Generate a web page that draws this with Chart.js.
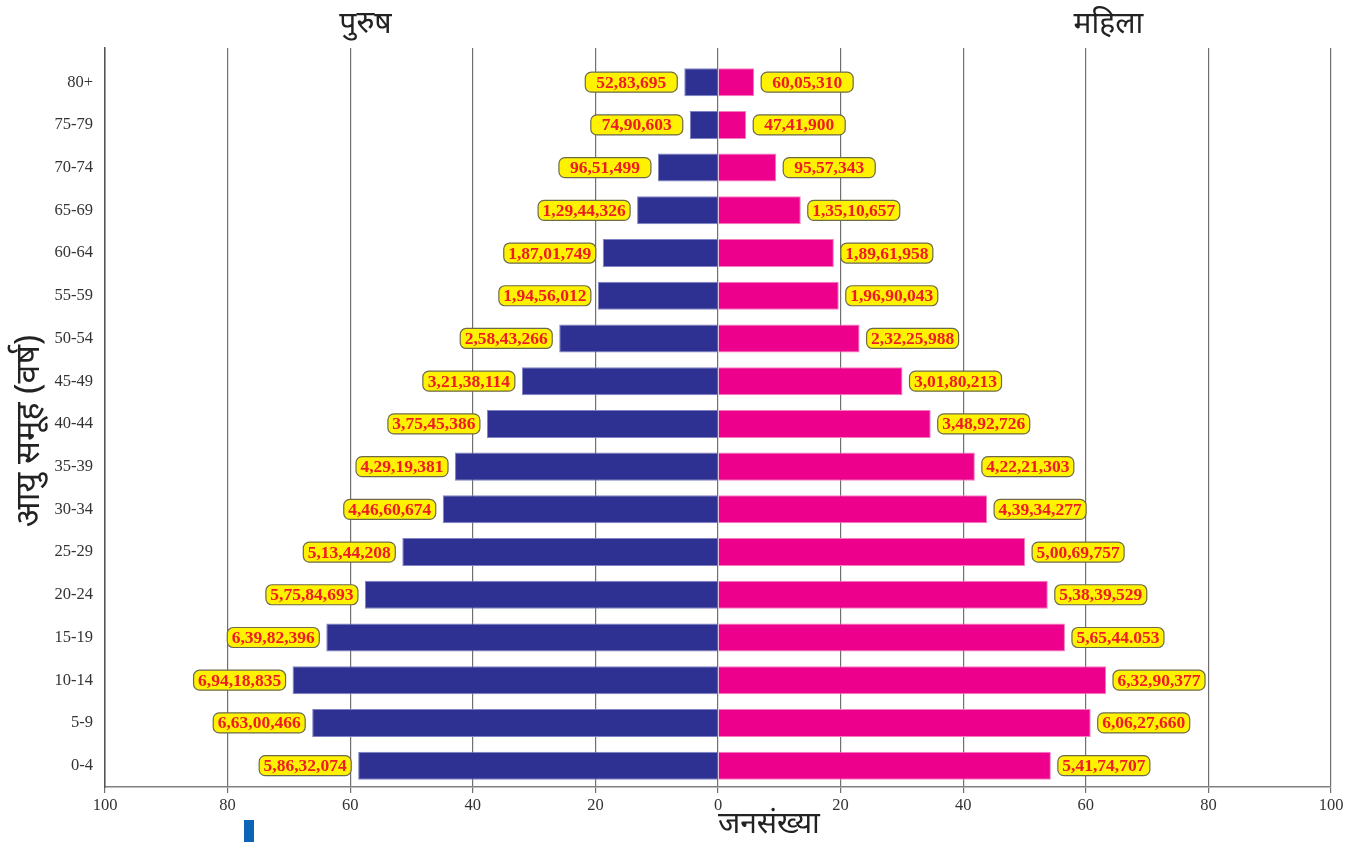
<!DOCTYPE html>
<html>
<head>
<meta charset="utf-8">
<script src="https://cdn.jsdelivr.net/npm/chart.js@4.4.0/dist/chart.umd.min.js"></script>
<style>
body { margin: 0; background: #fff; }
#wrap { position: relative; width: 1355px; height: 842px; }
#mark { position: absolute; left: 244px; top: 820px; width: 10px; height: 22px; background: #0b64b5; }
</style>
</head>
<body>
<div id="wrap"><canvas id="chart"></canvas><div id="mark"></div></div>
<script>
// age groups, top of the pyramid first
const ageGroups = ['80+', '75-79', '70-74', '65-69', '60-64', '55-59', '50-54', '45-49', '40-44',
  '35-39', '30-34', '25-29', '20-24', '15-19', '10-14', '5-9', '0-4'];

// bar lengths in millions
const maleMillions = [5.5, 4.6, 9.8, 13.2, 18.8, 19.6, 25.9, 32.0, 37.7, 42.9, 44.9, 51.5, 57.6, 63.9, 69.4, 66.2, 58.7];
const femaleMillions = [5.9, 4.6, 9.5, 13.5, 18.9, 19.7, 23.1, 30.1, 34.7, 41.9, 43.9, 50.1, 53.8, 56.6, 63.3, 60.8, 54.3];

// printed counts in the yellow tags
const maleTags = ['52,83,695', '74,90,603', '96,51,499', '1,29,44,326', '1,87,01,749', '1,94,56,012',
  '2,58,43,266', '3,21,38,114', '3,75,45,386', '4,29,19,381', '4,46,60,674', '5,13,44,208',
  '5,75,84,693', '6,39,82,396', '6,94,18,835', '6,63,00,466', '5,86,32,074'];
const femaleTags = ['60,05,310', '47,41,900', '95,57,343', '1,35,10,657', '1,89,61,958', '1,96,90,043',
  '2,32,25,988', '3,01,80,213', '3,48,92,726', '4,22,21,303', '4,39,34,277', '5,00,69,757',
  '5,38,39,529', '5,65,44.053', '6,32,90,377', '6,06,27,660', '5,41,74,707'];

const xTicks = [-100, -80, -60, -40, -20, 0, 20, 40, 60, 80, 100];

const devFont = '"Noto Sans", sans-serif';
const numFont = '"Liberation Serif", serif';

const valueTags = {
  id: 'valueTags',
  afterDatasetsDraw(chart) {
    const ctx = chart.ctx;
    const tagSets = [maleTags, femaleTags];
    const w = 92, h = 20;
    ctx.save();
    ctx.font = 'bold 17.5px ' + numFont;
    ctx.textAlign = 'center';
    ctx.textBaseline = 'middle';
    chart.data.datasets.forEach((ds, di) => {
      chart.getDatasetMeta(di).data.forEach((bar, i) => {
        const left = di === 0 ? bar.x - 7 - w : bar.x + 7;
        ctx.beginPath();
        ctx.roundRect(left, bar.y - h / 2, w, h, 6);
        ctx.fillStyle = '#fff200';
        ctx.fill();
        ctx.lineWidth = 1.2;
        ctx.strokeStyle = '#6d6a4a';
        ctx.stroke();
        ctx.fillStyle = '#ee1c25';
        ctx.fillText(tagSets[di][i], left + w / 2, bar.y + 1);
      });
    });
    ctx.restore();
  }
};

const titles = {
  id: 'titles',
  afterDraw(chart) {
    const ctx = chart.ctx;
    const x = chart.scales.x;
    ctx.save();
    ctx.fillStyle = '#222';
    ctx.textAlign = 'center';
    ctx.textBaseline = 'middle';
    ctx.font = '30px ' + devFont;
    ctx.fillText('पुरुष', x.getPixelForValue(-57.5), 24);
    ctx.fillText('महिला', x.getPixelForValue(63.7), 24);
    ctx.fillText('जनसंख्या', x.getPixelForValue(8.3), 824);
    ctx.font = '34px ' + devFont;
    ctx.translate(29, 431);
    ctx.rotate(-Math.PI / 2);
    ctx.fillText('आयु समूह (वर्ष)', 0, 0);
    ctx.restore();
  }
};

new Chart(document.getElementById('chart'), {
  type: 'bar',
  data: {
    datasets: [{
      label: 'पुरुष',
      data: maleMillions.map((v, i) => ({ x: -v, y: i })),
      backgroundColor: '#2e3192',
      borderColor: '#7f82c4',
      borderWidth: 1
    }, {
      label: 'महिला',
      data: femaleMillions.map((v, i) => ({ x: v, y: i })),
      backgroundColor: '#ec008c',
      borderColor: '#f27ec0',
      borderWidth: 1
    }]
  },
  options: {
    indexAxis: 'y',
    responsive: true,
    maintainAspectRatio: false,
    animation: false,
    categoryPercentage: 0.8,
    barPercentage: 0.82,
    layout: { padding: { left: 10, right: 24, top: 48, bottom: 0 } },
    plugins: { legend: { display: false }, tooltip: { enabled: false } },
    scales: {
      x: {
        type: 'linear',
        stacked: true,
        min: -100,
        max: 100,
        afterBuildTicks: s => { s.ticks = xTicks.map(v => ({ value: v })); },
        afterFit: s => { s.height = 55; },
        grid: { color: '#707070', lineWidth: 1.2, tickLength: 6, drawTicks: true },
        border: { display: true, color: '#808080', width: 1.5 },
        ticks: {
          callback: v => Math.abs(v),
          color: '#333',
          padding: 3,
          font: { family: numFont, size: 16.5 }
        }
      },
      y: {
        type: 'linear',
        stacked: true,
        reverse: true,
        offset: false,
        min: -0.8,
        max: 16.5,
        afterBuildTicks: s => { s.ticks = ageGroups.map((_, i) => ({ value: i })); },
        afterFit: s => { s.width = 95; },
        grid: { display: false, drawTicks: false, offset: false },
        border: { display: true, color: '#555', width: 1.5 },
        ticks: {
          callback: v => ageGroups[v],
          color: '#333',
          padding: 12,
          font: { family: numFont, size: 16.5 }
        }
      }
    }
  },
  plugins: [valueTags, titles]
});
</script>
</body>
</html>
